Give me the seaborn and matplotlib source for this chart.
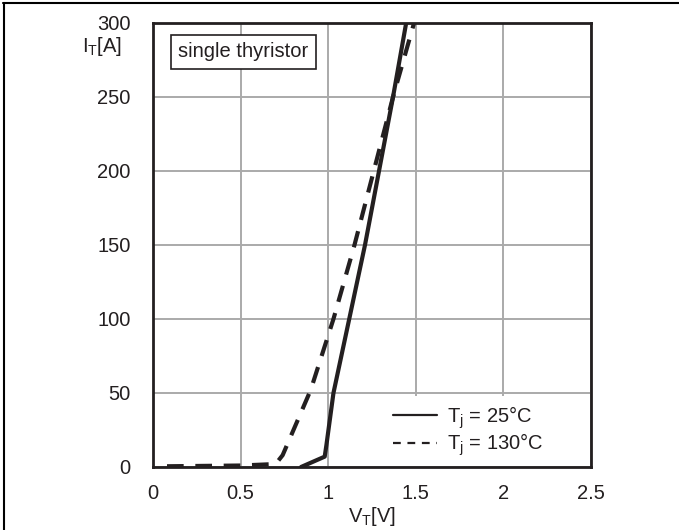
import matplotlib
matplotlib.use("Agg")
import matplotlib.pyplot as plt
import seaborn as sns
import pandas as pd
from matplotlib.lines import Line2D

# data
v_25 = [0.845, 0.98, 0.99, 1.03, 1.12, 1.21, 1.29, 1.37, 1.445]
i_25 = [0, 7, 15, 50, 100, 150, 200, 250, 300]
v_130 = [0.08, 0.5, 0.70, 0.74, 0.82, 0.90, 1.03, 1.15, 1.26, 1.37, 1.49]
i_130 = [0.5, 1, 2, 8, 30, 52, 100, 150, 200, 250, 300]
x_ticks = [0, 0.5, 1, 1.5, 2, 2.5]
x_tick_labels = ["0", "0.5", "1", "1.5", "2", "2.5"]
y_ticks = [0, 50, 100, 150, 200, 250, 300]
labels = ["T$_\\mathregular{j}$ = 25°C", "T$_\\mathregular{j}$ = 130°C"]

sns.set_theme(style="white")
plt.rcParams['font.family'] = ['Liberation Sans', 'DejaVu Sans']
plt.rcParams['mathtext.fontset'] = 'custom'
plt.rcParams['mathtext.rm'] = 'Liberation Sans'

df = pd.concat([
    pd.DataFrame({"V": v_25, "I": i_25, "T": labels[0]}),
    pd.DataFrame({"V": v_130, "I": i_130, "T": labels[1]}),
])

fig = plt.figure(figsize=(6.79, 5.30), dpi=100)
ax = fig.add_axes([153/679, 1 - 467/530, (591-153)/679, (467-23)/530])

ink = "#231f20"
fs = 14.5
sns.lineplot(data=df, x="V", y="I", hue="T", style="T", sort=False,
             palette=[ink, ink], dashes=[(None, None), (4.0, 2.8)],
             linewidth=3, ax=ax, legend=False, estimator=None)
for ln in ax.get_lines():
    ln.set_dash_capstyle("butt")

ax.set_xlim(0, 2.5)
ax.set_ylim(0, 300)
ax.set_xticks(x_ticks)
ax.set_xticklabels(x_tick_labels)
ax.set_yticks(y_ticks)
ax.tick_params(axis='x', length=0, labelsize=fs, colors=ink, pad=12)
ax.tick_params(axis='y', length=0, labelsize=fs, colors=ink, pad=16)
ax.grid(True, color="#aaaaaa", linewidth=1.4)
ax.set_axisbelow(True)
for s in ax.spines.values():
    s.set_color(ink)
    s.set_linewidth(2)
ax.set_xlabel("")
ax.set_ylabel("")

fig.text(102/679, 1 - 46/530, "I$_\\mathregular{T}$[A]", fontsize=fs, color=ink,
         ha="center", va="center")
fig.text(372/679, 1 - 517/530, "V$_\\mathregular{T}$[V]", fontsize=fs, color=ink,
         ha="center", va="center")

ax.text(0.058, 0.935, "single thyristor", transform=ax.transAxes, fontsize=fs,
        color=ink, ha="left", va="center",
        bbox=dict(boxstyle="square,pad=0.38", facecolor="white", edgecolor=ink, linewidth=1.2))

handles = [Line2D([0], [0], color=ink, lw=1.6),
           Line2D([0], [0], color=ink, lw=1.6, dashes=(3.5, 3))]
leg = ax.legend(handles, labels, loc="lower left", bbox_to_anchor=(0.515, -0.012),
                frameon=True, fancybox=False, framealpha=1, facecolor="white",
                edgecolor="none", fontsize=fs, handlelength=2.2, handletextpad=0.5,
                labelspacing=0.05, borderaxespad=0.3)
for t in leg.get_texts():
    t.set_color(ink)

# outer frame lines (top and left)
fig.add_artist(Line2D([3/679, 1], [1 - 3/530, 1 - 3/530], color="black", lw=1.5,
                      transform=fig.transFigure))
fig.add_artist(Line2D([4/679, 4/679], [0, 1 - 3/530], color="black", lw=1.5,
                      transform=fig.transFigure))

fig.savefig("out.png", dpi=100)
